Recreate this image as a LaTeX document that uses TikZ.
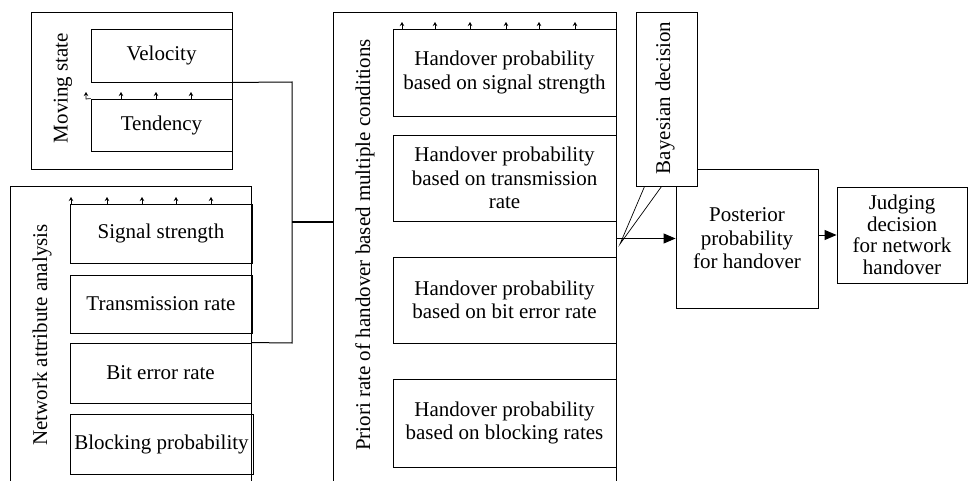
\documentclass[tikz,border=0pt]{standalone}
\usepackage{fontspec}
\setmainfont{Liberation Serif}
\newfontfamily\tnr{Liberation Serif}
\usetikzlibrary{arrows.meta}
\begin{document}
\begin{tikzpicture}[x=1pt,y=-1pt,
  box/.style={draw,line width=0.9pt,inner sep=0pt,align=center,font=\tnr\fontsize{21}{23.5}\selectfont},
  lbl/.style={inner sep=0pt,rotate=90,font=\tnr\fontsize{21}{23.5}\selectfont},
  tick/.style={line width=0.7pt,-{Stealth[length=4pt,width=4.5pt]}},
  con/.style={line width=1pt},
  flow/.style={line width=1pt,-{Triangle[length=12pt,width=10pt]}}]
\useasboundingbox (0,0) rectangle (968,481);
\clip (0,0) rectangle (968,481);
% Moving state
\node[box,minimum width=201pt,minimum height=157pt] (ms) at (131.5,90.5) {};
\node[lbl] (mslbl) at (63,88) {Moving state};
\node[box,minimum width=141pt,minimum height=53pt] (vel) at (161.5,55.5) {Velocity};
\node[box,minimum width=141pt,minimum height=52pt] (ten) at (161.5,125) {Tendency};
\coordinate (t0) at (86,99);
\draw[tick] (ten.north west) -- (t0) -- ++(0,-7);
\foreach \x in {121,156,191} \draw[tick] (\x,99) -- ++(0,-7);
% Network attribute analysis
\node[box,minimum width=241pt,minimum height=340pt] (na) at (130.5,356) {};
\node[lbl] (nalbl) at (42,335) {Network attribute analysis};
\node[box,minimum width=182pt,minimum height=59pt] (sig) at (161,233.5) {Signal strength};
\node[box,minimum width=182pt,minimum height=58pt] (tra) at (161,304) {Transmission rate};
\node[box,minimum width=181pt,minimum height=60pt] (ber) at (160.5,373) {Bit error rate};
\node[box,minimum width=183pt,minimum height=60pt] (blk) at (161.5,444) {Blocking probability};
\foreach \x in {71,107,142,176,211} \draw[tick] (\x,204) -- ++(0,-7);
% Priori
\node[box,minimum width=283pt,minimum height=508pt] (pr) at (474.5,266) {};
\node[lbl] (prlbl) at (365,245) {Priori rate of handover based multiple conditions};
\node[box,minimum width=223pt,minimum height=87pt] (h1) at (504.5,72.5) {Handover probability\\based on signal strength};
\node[box,minimum width=223pt,minimum height=86pt] (h2) at (504.5,178) {Handover probability\\based on transmission\\rate};
\node[box,minimum width=223pt,minimum height=86pt] (h3) at (504.5,300) {Handover probability\\based on bit error rate};
\node[box,minimum width=223pt,minimum height=88pt] (h4) at (504.5,423) {Handover probability\\based on blocking rates};
\foreach \x in {402,435,470,506,539,575} \draw[tick] (\x,29) -- ++(0,-7);
% connectors from left blocks
\coordinate (j1) at (292,82);
\coordinate (j2) at (292,343);
\coordinate (jb) at (292,222);
\draw[con] (vel.south east) -- (j1) -- (j2) -- (ber.north east);
\draw[con,line width=1.3pt] (jb) -- (jb -| pr.west);
% Posterior and judging
\node[box,minimum width=142pt,minimum height=139pt] (post) at (747,238.5) {Posterior\\probability\\for handover};
\node[box,minimum width=130pt,minimum height=96pt,font=\tnr\fontsize{21}{21.5}\selectfont] (jud) at (902,235) {Judging\\decision\\for network\\handover};
% Bayesian callout
\node[box,fill=white,minimum width=61pt,minimum height=174pt] (bay) at (666.5,99) {};
\node[lbl] (baylbl) at (665,98) {Bayesian decision};
\coordinate (tip) at (620,244);
\draw[line width=0.7pt] ([xshift=9pt]bay.south west) -- (tip) -- ([xshift=26pt]bay.south west);
\draw[flow] (pr.east |- post.west) -- (post.west);
\draw[flow] (post.east |- jud.west) -- (jud.west);
\end{tikzpicture}
\end{document}
